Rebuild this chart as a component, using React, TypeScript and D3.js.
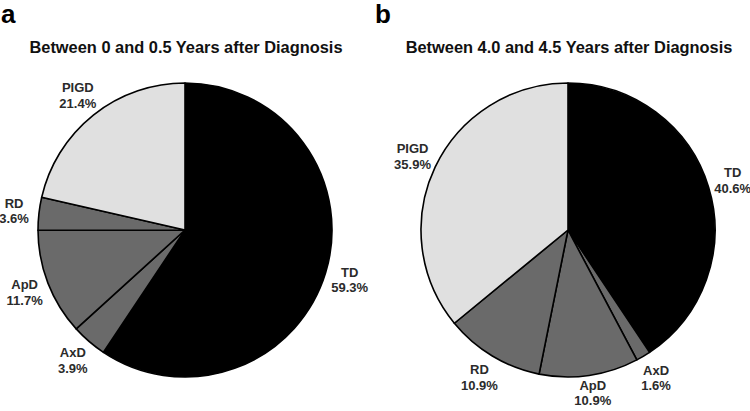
import React from "react";
import * as d3 from "d3";

const categories = ["TD", "AxD", "ApD", "RD", "PIGD"];
const valuesA = [59.3, 3.9, 11.7, 3.6, 21.4];
const valuesB = [40.6, 1.6, 10.9, 10.9, 35.9];
const titles = ["Between 0 and 0.5 Years after Diagnosis", "Between 4.0 and 4.5 Years after Diagnosis"];
const panelLetters = ["a", "b"];
const colors: Record<string, string> = {
  TD: "#000000",
  AxD: "#6a6a6a",
  ApD: "#6a6a6a",
  RD: "#6a6a6a",
  PIGD: "#e0e0e0",
};

const W = 750;
const H = 411;
const R = 147;
const LABEL_R = 172;
const LINE = 15.5;
const FONT = "'Liberation Sans', Arial, sans-serif";

function Pie({ values, cx, cy, title, letter, letterX }: any) {
  const data = categories.map((c, i) => ({ cat: c, value: values[i] }));
  const pie = d3.pie<any>().sort(null).value((d) => d.value).startAngle(0).endAngle(2 * Math.PI);
  const arcs = pie(data);
  const arc = d3.arc<any>().innerRadius(0).outerRadius(R);
  const labelArc = d3.arc<any>().innerRadius(LABEL_R).outerRadius(LABEL_R);
  const fmt = d3.format(".1f");
  const maxLy = H - 6 - cy - LINE + 3.1;
  return (
    <g>
      <text x={letterX} y={22.5} fontFamily={FONT} fontWeight="bold" fontSize={26} fill="#000">
        {letter}
      </text>
      <text x={cx + 1} y={53} textAnchor="middle" fontFamily={FONT} fontWeight="bold" fontSize={16.4} fill="#111">
        {title}
      </text>
      <g transform={`translate(${cx},${cy})`}>
        {arcs.map((a, i) => (
          <path key={i} d={arc(a) as string} fill={colors[a.data.cat]} stroke="#000" strokeWidth={1.6} strokeLinejoin="round" />
        ))}
        {arcs.map((a, i) => {
          const [lx, ly0] = labelArc.centroid(a);
          const ly = Math.min(ly0, maxLy);
          const y1 = ly - 3.1;
          return (
            <text key={"l" + i} textAnchor="middle" fontFamily={FONT} fontWeight="bold" fontSize={13} fill="#2b2b2b">
              <tspan x={lx} y={y1}>{a.data.cat}</tspan>
              <tspan x={lx} y={y1 + LINE}>{fmt(a.data.value)}%</tspan>
            </text>
          );
        })}
      </g>
    </g>
  );
}

export default function App() {
  return (
    <svg width={W} height={H} style={{ position: "absolute", left: 0, top: 0, background: "#fff" }}>
      <rect width={W} height={H} fill="#fff" />
      <Pie values={valuesA} cx={185} cy={230} title={titles[0]} letter={panelLetters[0]} letterX={1} />
      <Pie values={valuesB} cx={568} cy={230} title={titles[1]} letter={panelLetters[1]} letterX={375} />
    </svg>
  );
}
